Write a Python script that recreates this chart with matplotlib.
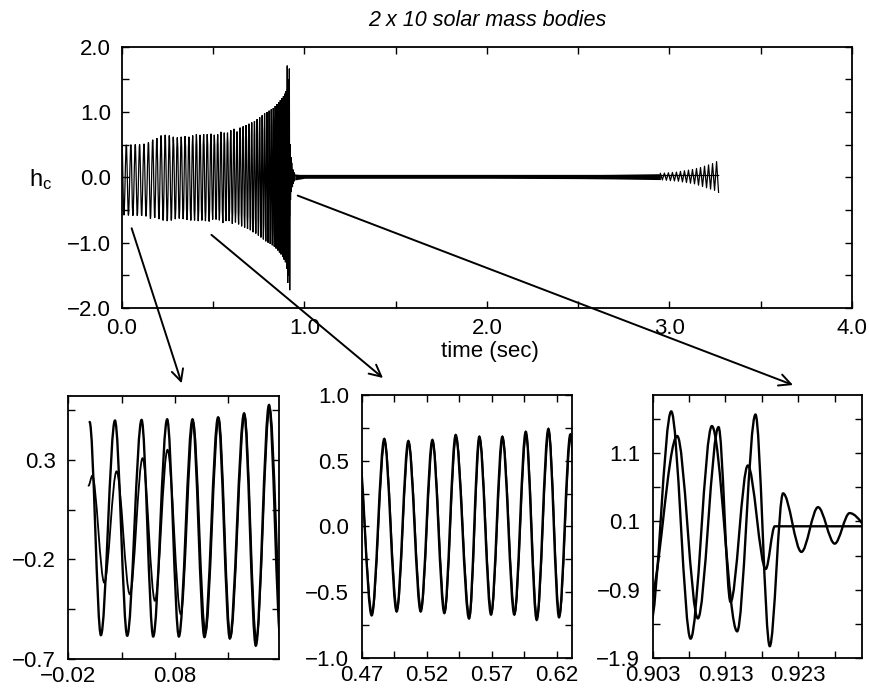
import matplotlib
matplotlib.use("Agg")
import matplotlib.pyplot as plt
from matplotlib.path import Path
from matplotlib.patches import PathPatch, ConnectionPatch

plt.rcParams['font.family'] = ['Liberation Sans', 'DejaVu Sans']
plt.rcParams['mathtext.fontset'] = 'custom'
plt.rcParams['mathtext.rm'] = 'Liberation Sans'
plt.rcParams['mathtext.it'] = 'Liberation Sans:italic'

# --- data: extrema (peak / trough) of the waveforms ---
# main waveform (inspiral + merger + ringdown start)
main_t = [
    0.0000, 0.0106, 0.0238, 0.0353, 0.0488, 0.0597, 0.0728, 0.0838, 0.0966, 0.1078,
    0.1206, 0.1316, 0.1450, 0.1560, 0.1684, 0.1795, 0.1911, 0.2026, 0.2141, 0.2255,
    0.2368, 0.2480, 0.2592, 0.2703, 0.2813, 0.2922, 0.3031, 0.3139, 0.3246, 0.3353,
    0.3459, 0.3564, 0.3668, 0.3772, 0.3875, 0.3977, 0.4078, 0.4179, 0.4279, 0.4378,
    0.4476, 0.4574, 0.4671, 0.4777, 0.4874, 0.4969, 0.5059, 0.5154, 0.5244, 0.5336,
    0.5423, 0.5526, 0.5605, 0.5695, 0.5782, 0.5874, 0.5962, 0.6046, 0.6136, 0.6218,
    0.6305, 0.6390, 0.6474, 0.6557, 0.6639, 0.6720, 0.6800, 0.6879, 0.6957, 0.7034,
    0.7110, 0.7185, 0.7259, 0.7332, 0.7404, 0.7475, 0.7545, 0.7614, 0.7682, 0.7749,
    0.7815, 0.7880, 0.7943, 0.8005, 0.8065, 0.8124, 0.8181, 0.8237, 0.8291, 0.8344,
    0.8395, 0.8445, 0.8493, 0.8540, 0.8585, 0.8629, 0.8675, 0.8720, 0.8762, 0.8804,
    0.8844, 0.8882, 0.8920, 0.8957, 0.8993, 0.9027, 0.90555, 0.90821, 0.91113, 0.9146,
    0.91712, 0.91908, 0.92091, 0.92343, 0.92571, 0.9280, 0.93005, 0.9340, 0.9365, 0.9390,
    0.9415, 0.9440, 0.9465]
main_h = [
    0.49, -0.58, 0.497, -0.583, 0.50, -0.587, 0.503, -0.587, 0.503, -0.59,
    0.513, -0.597, 0.533, -0.633, 0.575, -0.62, 0.60, -0.64, 0.64, -0.66,
    0.65, -0.67, 0.64, -0.66, 0.62, -0.64, 0.61, -0.63, 0.62, -0.64,
    0.63, -0.65, 0.62, -0.66, 0.64, -0.66, 0.66, -0.67, 0.65, -0.66,
    0.66, -0.67, 0.66, -0.676, 0.666, -0.646, 0.650, -0.646, 0.658, -0.658,
    0.696, -0.700, 0.683, -0.670, 0.683, -0.670, 0.720, -0.710, 0.742, -0.690,
    0.700, -0.720, 0.76, -0.75, 0.78, -0.77, 0.80, -0.79, 0.82, -0.81,
    0.84, -0.84, 0.86, -0.86, 0.89, -0.89, 0.92, -0.92, 0.95, -0.95,
    0.98, -0.98, 1.00, -1.00, 1.02, -1.02, 1.04, -1.04, 1.06, -1.06,
    1.09, -1.09, 1.12, -1.12, 1.15, -1.15, 1.18, -1.18, 1.21, -1.22,
    1.24, -1.26, 1.28, -1.30, 1.32, -1.40, 1.71, -1.617, 1.495, -1.51,
    1.664, -1.727, 0.51, -0.347, 0.308, -0.226, 0.221, -0.15, 0.12, -0.10,
    0.08, -0.06, 0.05]

# second waveform, early part (bottom-left panel)
b_t = [-0.0010, 0.0025, 0.0138, 0.0253, 0.0378, 0.0497, 0.0613, 0.0731, 0.0856,
       0.0972, 0.1088, 0.1212, 0.1322, 0.1455, 0.1565, 0.1690, 0.1810]
b_h = [0.17, 0.22, -0.317, 0.242, -0.375, 0.308, -0.408, 0.35, -0.475,
       0.49, -0.567, 0.51, -0.59, 0.525, -0.60, 0.56, -0.60]

# second waveform, middle part (bottom-middle panel)
m2_t = [0.4668, 0.4780, 0.4877, 0.4972, 0.5062, 0.5157, 0.5247, 0.5339, 0.5426, 0.5529,
        0.5608, 0.5698, 0.5785, 0.5877, 0.5965, 0.6049, 0.6139, 0.6221, 0.6308, 0.6393]
m2_h = [0.64, -0.66, 0.645, -0.63, 0.635, -0.63, 0.640, -0.645, 0.680, -0.685,
        0.665, -0.655, 0.665, -0.655, 0.700, -0.695, 0.720, -0.675, 0.68, -0.70]

# second waveform at merger, then flat
q_t = [0.9025, 0.90637, 0.90921, 0.91205, 0.91369, 0.91607, 0.91853, 0.91977, 3.27]
q_h = [-1.10, 1.35, -1.32, 1.48, -1.08, 0.918, -0.597, 0.028, 0.028]

# ringdown envelope (too fine to resolve in the overview)
ring_t = [0.9465, 1.0, 1.5, 2.0, 2.5, 2.7, 2.95]
ring_hi = [0.05, 0.035, 0.035, 0.035, 0.04, 0.045, 0.055]
ring_lo = [-0.04, -0.015, -0.015, -0.015, -0.02, -0.025, -0.035]

# growing tail at the end of the run
tail_t = [2.950, 2.961, 2.972, 2.983, 2.994, 3.005, 3.016, 3.027, 3.038, 3.049,
          3.060, 3.071, 3.082, 3.093, 3.104, 3.115, 3.126, 3.137, 3.148, 3.159,
          3.170, 3.181, 3.192, 3.203, 3.214, 3.225, 3.236, 3.247, 3.258, 3.269]
tail_h = [0.06, -0.04, 0.065, -0.045, 0.07, -0.05, 0.075, -0.055, 0.08, -0.06,
          0.09, -0.07, 0.10, -0.08, 0.11, -0.09, 0.12, -0.10, 0.135, -0.12,
          0.15, -0.14, 0.17, -0.16, 0.19, -0.18, 0.21, -0.20, 0.24, -0.23]

# ticks
M = '\u2212'
top_xt = [0.0, 1.0, 2.0, 3.0, 4.0]
top_xl = ['0.0', '1.0', '2.0', '3.0', '4.0']
top_xm = [0.5, 1.5, 2.5, 3.5]
top_yt = [-2.0, -1.0, 0.0, 1.0, 2.0]
top_yl = [M + '2.0', M + '1.0', '0.0', '1.0', '2.0']
top_ym = [-1.5, -0.5, 0.5, 1.5]

bl_xt = [-0.02, 0.08]
bl_xl = [M + '0.02', '0.08']
bl_xm = [0.03, 0.13]
bl_yt = [-0.7, -0.2, 0.3]
bl_yl = [M + '0.7', M + '0.2', '0.3']
bl_ym = [-0.45, 0.05, 0.55]

bm_xt = [0.47, 0.52, 0.57, 0.62]
bm_xl = ['0.47', '0.52', '0.57', '0.62']
bm_xm = [0.495, 0.545, 0.595]
bm_yt = [-1.0, -0.5, 0.0, 0.5, 1.0]
bm_yl = [M + '1.0', M + '0.5', '0.0', '0.5', '1.0']
bm_ym = [-0.75, -0.25, 0.25, 0.75]

br_xt = [0.903, 0.913, 0.923]
br_xl = ['0.903', '0.913', '0.923']
br_xm = [0.908, 0.918, 0.928]
br_yt = [-1.9, -0.9, 0.1, 1.1]
br_yl = [M + '1.9', M + '0.9', '0.1', '1.1']
br_ym = [-1.4, -0.4, 0.6, 1.6]


def wave_path(ts, hs):
    """smooth curve through extrema, flat tangent at each one"""
    verts = [(ts[0], hs[0])]
    codes = [Path.MOVETO]
    for i in range(1, len(ts)):
        d = (ts[i] - ts[i-1]) / 3.0
        verts += [(ts[i-1] + d, hs[i-1]), (ts[i] - d, hs[i]), (ts[i], hs[i])]
        codes += [Path.CURVE4] * 3
    return Path(verts, codes)


def add_wave(ax, ts, hs, lw):
    ax.add_patch(PathPatch(wave_path(ts, hs), facecolor='none',
                           edgecolor='black', lw=lw, capstyle='round'))


def setup(ax, xlim, ylim, xt, xl, xm, yt, yl, ym, xpad, ypad):
    ax.set_xlim(*xlim)
    ax.set_ylim(*ylim)
    ax.set_xticks(xt, labels=xl)
    ax.set_xticks(xm, minor=True)
    ax.set_yticks(yt, labels=yl)
    ax.set_yticks(ym, minor=True)
    ax.tick_params(which='both', direction='in', top=True, right=True,
                   length=5, width=1.0, labelsize=16)
    ax.tick_params(axis='x', which='both', pad=xpad)
    ax.tick_params(axis='y', which='both', pad=ypad)
    for s in ax.spines.values():
        s.set_linewidth(1.3)


fig = plt.figure(figsize=(8.7, 6.89), dpi=100)

ax_top = fig.add_axes([0.1402, 0.5530, 0.8391, 0.3793])
ax_bl = fig.add_axes([0.0785, 0.0435, 0.2425, 0.3817])
ax_bm = fig.add_axes([0.4157, 0.0450, 0.2414, 0.3817])
ax_br = fig.add_axes([0.7502, 0.0450, 0.2402, 0.3817])

# overview
add_wave(ax_top, main_t, main_h, 0.9)
add_wave(ax_top, q_t, q_h, 0.9)
ax_top.fill_between(ring_t, ring_lo, ring_hi, color='black', lw=0)
ax_top.plot(tail_t, tail_h, color='black', lw=0.9)
setup(ax_top, (0, 4), (-2, 2), top_xt, top_xl, top_xm,
      top_yt, top_yl, top_ym, 7, 8)
ax_top.set_title('2 x 10 solar mass bodies', fontsize=15.5, style='italic', pad=15)
ax_top.set_xlabel('time (sec)', fontsize=16)
ax_top.xaxis.set_label_coords(0.504, -0.128)
ax_top.set_ylabel(r'$\mathregular{h_c}$', fontsize=17, rotation=0,
                  va='center', ha='center')
ax_top.yaxis.set_label_coords(-0.112, 0.49)

# zooms
add_wave(ax_bl, main_t, main_h, 1.7)
add_wave(ax_bl, b_t, b_h, 1.3)
setup(ax_bl, (-0.02, 0.178), (-0.7, 0.62), bl_xt, bl_xl, bl_xm,
      bl_yt, bl_yl, bl_ym, 5, 9)

add_wave(ax_bm, main_t, main_h, 1.7)
add_wave(ax_bm, m2_t, m2_h, 1.3)
setup(ax_bm, (0.47, 0.6315), (-1.0, 1.0), bm_xt, bm_xl, bm_xm,
      bm_yt, bm_yl, bm_ym, 5, 9)

add_wave(ax_br, main_t, main_h, 1.7)
add_wave(ax_br, q_t, q_h, 1.7)
setup(ax_br, (0.903, 0.9317), (-1.9, 1.95), br_xt, br_xl, br_xm,
      br_yt, br_yl, br_ym, 5, 9)

# arrows from the overview down to the zoom panels
arrow_from = [(0.053, -0.78), (0.49, -0.88), (0.963, -0.28)]
arrow_to = [(181.7 / 870, 1 - 383.3 / 689), (383.0 / 870, 1 - 378.0 / 689),
            (793.0 / 870, 1 - 385.0 / 689)]
for a, b in zip(arrow_from, arrow_to):
    con = ConnectionPatch(xyA=a, coordsA=ax_top.transData,
                          xyB=b, coordsB='figure fraction',
                          arrowstyle='->,head_length=0.6,head_width=0.3',
                          mutation_scale=14, lw=1.4, color='black',
                          shrinkA=0, shrinkB=0)
    fig.add_artist(con)

fig.savefig('out.png', dpi=100)
